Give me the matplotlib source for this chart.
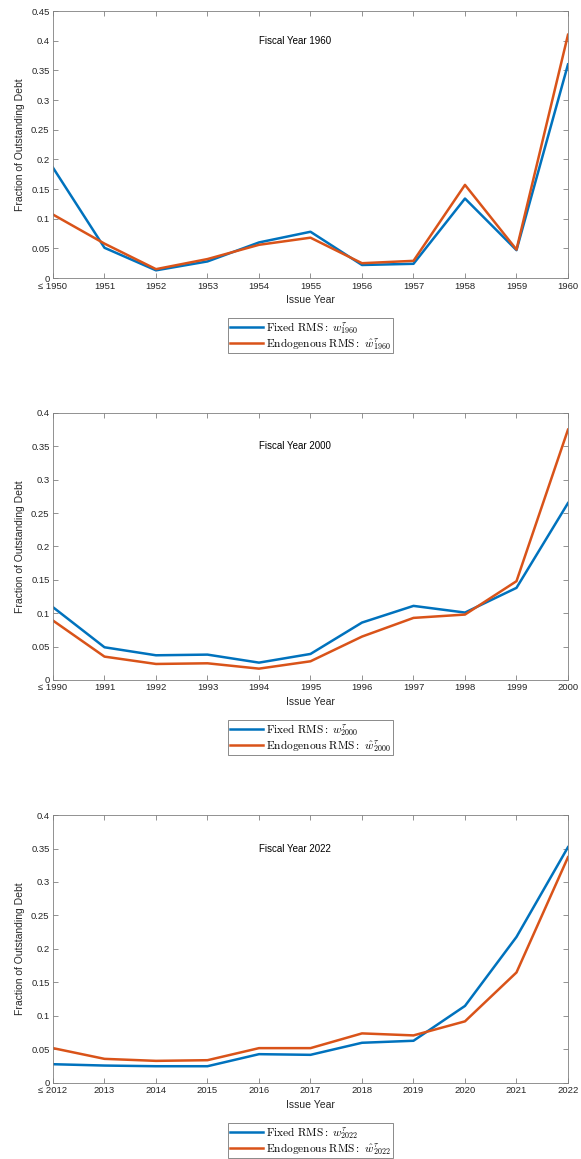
import matplotlib
matplotlib.use('Agg')
import matplotlib.pyplot as plt
import matplotlib.ticker as ticker
import numpy as np

plt.rcParams['font.family'] = ['Liberation Sans', 'DejaVu Sans']
plt.rcParams['mathtext.fontset'] = 'cm'

# ── Data ──
years_1960 = [1950, 1951, 1952, 1953, 1954, 1955, 1956, 1957, 1958, 1959, 1960]
fixed_1960 = [0.186, 0.051, 0.013, 0.028, 0.060, 0.078, 0.022, 0.024, 0.134, 0.047, 0.360]
endog_1960 = [0.107, 0.058, 0.015, 0.032, 0.056, 0.068, 0.025, 0.029, 0.157, 0.048, 0.410]

years_2000 = [1990, 1991, 1992, 1993, 1994, 1995, 1996, 1997, 1998, 1999, 2000]
fixed_2000 = [0.109, 0.049, 0.037, 0.038, 0.026, 0.039, 0.086, 0.111, 0.101, 0.138, 0.265]
endog_2000 = [0.089, 0.035, 0.024, 0.025, 0.017, 0.028, 0.065, 0.093, 0.098, 0.148, 0.375]

years_2022 = [2012, 2013, 2014, 2015, 2016, 2017, 2018, 2019, 2020, 2021, 2022]
fixed_2022 = [0.028, 0.026, 0.025, 0.025, 0.043, 0.042, 0.060, 0.063, 0.115, 0.218, 0.352]
endog_2022 = [0.052, 0.036, 0.033, 0.034, 0.052, 0.052, 0.074, 0.071, 0.092, 0.165, 0.337]

fiscal_years = [1960, 2000, 2022]
y_tops = [0.45, 0.4, 0.4]
label_y = [0.4, 0.35, 0.35]

BLUE = '#0072BD'
ORANGE = '#D95319'
AXCOL = '#262626'

fig = plt.figure(figsize=(5.81, 11.59), dpi=100)
fig.patch.set_facecolor('white')

# axes boxes in figure fractions (left, bottom, width, height)
boxes = [
    (0.0912, 0.7601, 0.8864, 0.2304),
    (0.0912, 0.4133, 0.8864, 0.2304),
    (0.0912, 0.0656, 0.8864, 0.2312),
]

panels = [
    (years_1960, fixed_1960, endog_1960),
    (years_2000, fixed_2000, endog_2000),
    (years_2022, fixed_2022, endog_2022),
]

for k, (yrs, fixed, endog) in enumerate(panels):
    ax = fig.add_axes(boxes[k])
    fy = fiscal_years[k]
    ax.plot(yrs, fixed, color=BLUE, linewidth=1.8,
            label=r'$\mathrm{Fixed\ RMS{:}}\ w^{\tau}_{%d}$' % fy)
    ax.plot(yrs, endog, color=ORANGE, linewidth=1.8,
            label=r'$\mathrm{Endogenous\ RMS{:}}\ \hat{w}^{\tau}_{%d}$' % fy)

    ax.set_xlim(yrs[0], yrs[-1])
    ax.set_ylim(0, y_tops[k])
    ax.set_xticks(yrs)
    ax.set_xticklabels(['\u2264 %d' % yrs[0]] + [str(y) for y in yrs[1:]])
    ax.yaxis.set_major_locator(ticker.MultipleLocator(0.05))
    ax.yaxis.set_major_formatter(ticker.FormatStrFormatter('%g'))

    ax.text(yrs[4], label_y[k], 'Fiscal Year %d' % fy, fontsize=7,
            ha='left', va='center', color='black')

    ax.set_xlabel('Issue Year', fontsize=7.5, color=AXCOL, labelpad=3)
    ax.set_ylabel('Fraction of Outstanding Debt', fontsize=7.5, color=AXCOL, labelpad=4)

    for s in ax.spines.values():
        s.set_color('#808080')
        s.set_linewidth(0.6)
    ax.tick_params(direction='in', length=3.5, width=0.6, colors='#808080',
                   labelcolor=AXCOL, labelsize=6.8, top=True, right=True, pad=2.5)

    leg = ax.legend(loc='upper center', bbox_to_anchor=(0.5, -0.15), fontsize=8.2,
                    frameon=True, fancybox=False, edgecolor='#555555',
                    handlelength=2.9, handletextpad=0.3, borderpad=0.15,
                    labelspacing=0.0, borderaxespad=0)
    leg.get_frame().set_linewidth(0.6)

plt.savefig('out.png', dpi=100, facecolor='white')
plt.close()
